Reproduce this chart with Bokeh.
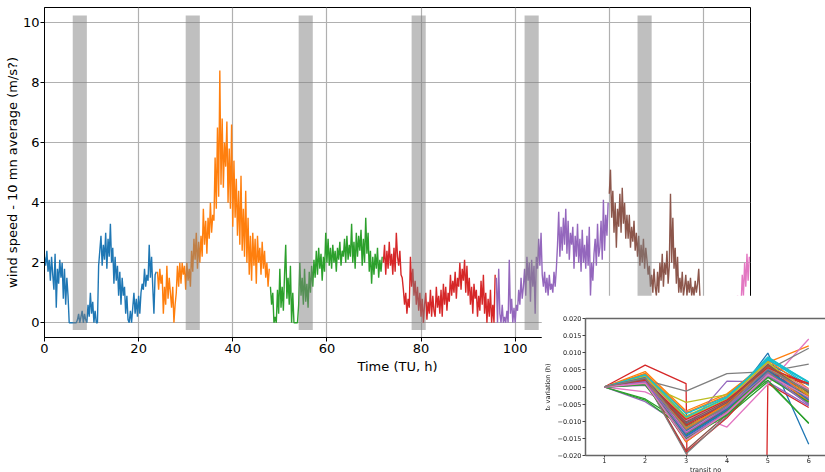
from bokeh.plotting import figure
from bokeh.models import Range1d, FixedTicker, CustomJSTickFormatter, LinearAxis
from bokeh.embed import file_html
from bokeh.resources import INLINE

# ---------------- main chart data (10 mn averaged wind speed, sampled every 0.25 h) ----------------
STEP = 0.25
day_start = [0, 24, 48, 72, 96, 120, 144]

day1 = [2.2, 1.9, 2.4, 1.7, 2.1, 1.4, 2.2, 1.6, 1.1, 2.3, 0.5, 1.8, 1.3, 2.1, 1.5, 2.0,
        0.8, 1.8, 0.6, 1.5, 0.9, 0.0, 0.0, 0.0, 0.0, 0.0, 0.0, 0.0, 0.1, 0.3, 0.0, 0.2,
        0.4, 0.0, 0.3, 0.1, 0.0, 0.6, 0.2, 1.0, 0.3, 0.7, 0.0, 0.4, 0.0, 0.0, 1.9, 2.4,
        2.9, 1.9, 2.6, 2.1, 3.0, 1.8, 2.8, 2.2, 3.3, 2.0, 2.5, 1.3, 2.2, 1.4, 1.9, 0.9,
        1.7, 0.6, 1.5, 0.9, 1.2, 0.3, 0.9, 0.1, 0.0, 0.4, 0.0, 0.5, 1.0, 0.3, 0.8, 0.2,
        0.9, 0.3, 1.0, 1.3, 1.1, 1.8, 1.2, 1.6, 1.4, 2.6, 1.5, 2.2, 1.2, 0.3, 1.6, 1.7]
day2 = [1.7, 1.1, 1.8, 1.3, 1.6, 0.3, 1.2, 0.6, 1.9, 0.8, 1.5, 1.0, 0.5, 1.2, 0.0, 0.6,
        1.0, 1.9, 1.2, 2.0, 1.3, 2.0, 1.6, 1.9, 1.1, 2.0, 1.4, 1.8, 1.2, 2.4, 1.7, 2.8,
        2.1, 3.0, 1.8, 2.7, 2.0, 2.9, 2.2, 3.8, 2.6, 3.4, 2.3, 3.5, 2.8, 4.0, 3.0, 3.6,
        3.4, 5.5, 3.8, 6.5, 4.2, 8.4, 4.6, 6.8, 4.5, 6.0, 5.2, 6.7, 4.0, 5.8, 3.8, 6.6,
        3.2, 5.4, 3.5, 4.8, 2.9, 4.4, 2.6, 4.9, 2.4, 3.8, 2.2, 4.4, 2.0, 3.5, 1.6, 2.9,
        1.4, 3.0, 1.9, 2.8, 1.3, 2.9, 2.0, 2.5, 1.6, 2.7, 1.8, 2.4, 1.5, 2.0, 1.2, 1.8]
day3 = [1.2, 0.6, 1.0, 0.0, 0.2, 0.0, 1.1, 0.3, 1.8, 0.5, 1.2, 0.4, 1.6, 2.6, 0.8, 1.5,
        0.6, 1.9, 0.0, 1.0, 0.0, 0.0, 0.0, 0.0, 0.6, 2.0, 0.9, 1.5, 0.6, 1.8, 0.7, 1.3,
        0.5, 1.7, 1.0, 1.9, 1.2, 2.1, 1.5, 2.4, 1.6, 2.5, 1.8, 2.3, 1.4, 2.2, 1.7, 3.0,
        2.0, 2.8, 1.9, 2.5, 1.8, 2.6, 2.0, 2.4, 1.7, 2.5, 2.1, 2.7, 1.9, 2.4, 2.2, 2.8,
        2.0, 2.9, 2.1, 2.6, 2.2, 3.3, 2.0, 2.7, 1.8, 3.0, 2.2, 2.9, 2.4, 3.1, 1.9, 2.8,
        2.0, 3.5, 2.3, 3.0, 1.7, 2.4, 1.3, 2.2, 1.6, 2.3, 1.8, 2.5, 1.5, 2.1, 1.7, 2.2]
day4 = [2.0, 2.6, 1.6, 2.4, 1.8, 2.7, 1.9, 2.3, 1.6, 2.5, 1.7, 3.0, 2.2, 1.9, 2.4, 1.6,
        1.5, 1.1, 0.6, 1.0, 0.3, 0.8, 0.5, 2.2, 1.2, 1.8, 0.9, 1.4, 0.6, 1.2, 0.4, 1.0,
        0.2, 0.8, 0.0, 0.6, 1.0, 0.1, 0.7, 0.3, 1.1, 0.2, 0.9, 0.4, 0.2, 1.2, 0.5, 0.9,
        0.3, 1.1, 0.2, 1.3, 0.6, 1.2, 0.4, 1.0, 0.7, 1.6, 0.9, 1.4, 1.0, 1.7, 0.8, 1.5,
        1.2, 2.0, 1.1, 1.8, 1.4, 2.1, 1.0, 1.9, 0.9, 1.5, 0.6, 1.2, 0.3, 1.3, 0.8, 1.1,
        0.2, 0.9, 0.4, 1.4, 0.6, 1.6, 0.3, 1.0, 0.0, 0.8, 0.2, 1.1, 0.0, 0.6, 0.0, 1.6]
day5 = [1.5, 0.0, 1.8, 0.3, 0.0, 0.6, 0.0, 0.2, 0.0, 0.4, 0.0, 2.1, 0.3, 0.8, 0.0, 0.5,
        0.0, 0.6, 0.4, 1.1, 0.6, 1.5, 0.8, 1.2, 1.8, 0.9, 2.2, 1.4, 2.0, 0.7, 2.1, 1.2,
        1.9, 0.3, 2.2, 1.8, 2.8, 1.9, 3.0, 1.6, 1.2, 1.7, 1.0, 1.5, 0.9, 1.6, 1.1, 1.3,
        1.0, 1.7, 1.2, 1.8, 2.6, 3.7, 2.2, 3.2, 2.4, 3.5, 2.6, 3.8, 2.3, 3.4, 2.1, 3.0,
        2.6, 3.2, 1.8, 2.9, 2.2, 3.3, 2.0, 2.8, 1.7, 3.1, 2.0, 2.6, 1.8, 2.9, 1.9, 3.2,
        0.9, 2.0, 1.4, 2.3, 2.8, 1.9, 3.3, 2.2, 2.5, 3.4, 2.1, 4.1, 2.4, 3.6, 2.9, 4.0]
day6 = [4.3, 5.1, 3.5, 4.4, 3.0, 4.0, 2.5, 3.8, 3.2, 4.3, 3.0, 4.5, 3.3, 4.0, 2.8, 3.6,
        2.8, 3.6, 2.5, 3.2, 2.7, 3.4, 2.4, 3.0, 2.2, 2.9, 1.9, 2.6, 2.0, 2.8, 1.8, 2.5,
        2.1, 1.6, 1.9, 1.2, 1.6, 1.0, 1.8, 1.2, 0.9, 1.7, 1.0, 2.0, 1.4, 2.3, 1.2, 2.0,
        1.6, 2.4, 1.3, 1.9, 4.3, 2.0, 3.5, 1.8, 2.5, 1.3, 2.2, 1.0, 1.5, 1.0, 1.7, 0.9,
        1.2, 1.6, 0.9, 1.4, 1.0, 1.5, 0.9, 1.2, 0.9, 1.4, 1.0, 1.3, 1.8, 0.9, 0.5, 0.3,
        0.6, 0.2, 0.7, 0.4, 0.3, 0.8, 0.1, 0.5, 0.6, 0.2, 0.4, 0.8, 0.3, 0.7, 0.2, 0.5]
day7 = [0.2, 0.6, 0.3, 0.8, 0.4, 0.7, 0.1, 0.5, 0.6, 0.3, 0.8, 0.4, 0.5, 0.9, 0.3, 0.7,
        0.6, 1.6, 0.9, 2.0, 1.2, 2.3, 1.4, 2.2]
days = [day1, day2, day3, day4, day5, day6, day7]

# grey transit windows (h)
bar_start = [6, 30, 54, 78, 102, 126]
bar_end = [9, 33, 57, 81, 105, 129]
bar_low = -0.24
bar_high = 10.23

x_ticks = [0, 20, 40, 60, 80, 100, 120, 140]
y_ticks = [0, 2, 4, 6, 8, 10]

# ---------------- inset data: t0 variation (h) per transit number ----------------
transit_no = [1, 2, 3, 4, 5, 6]
t2 = [0.0010, 0.0045, -0.0035, 0.0064, -0.0043, 0.0020, -0.0014, 0.0020, 0.0010, 0.0035,
      0.0025, 0.0030, -0.0038, 0.0020, 0.0005, 0.0015, 0.0020, 0.0020, 0.0035, 0.0030,
      0.0015, 0.0040, 0.0025, 0.0012, 0.0020, 0.0028, 0.0032, 0.0018, 0.0026, 0.0033,
      0.0022, 0.0038, 0.0008, 0.0017, 0.0012, 0.0024, 0.0029, 0.0014, 0.0031, 0.0036,
      0.0027, 0.0021, 0.0007, 0.0019, 0.0016, 0.0023, 0.0011, 0.0026]
t3 = [-0.0120, -0.0070, -0.0110, 0.0010, -0.0120, -0.0185, -0.0070, -0.0012, -0.0045, -0.0090,
      -0.0105, -0.0140, -0.0125, -0.0190, -0.0130, -0.0160, -0.0120, -0.0195, -0.0085, -0.0095,
      -0.0145, -0.0075, -0.0115, -0.0135, -0.0108, -0.0125, -0.0098, -0.0150, -0.0118, -0.0088,
      -0.0128, -0.0160, -0.0138, -0.0112, -0.0148, -0.0102, -0.0132, -0.0118, -0.0092, -0.0078,
      -0.0142, -0.0122, -0.0152, -0.0095, -0.0135, -0.0108, -0.0155, -0.0125]
t4 = [-0.0060, -0.0020, -0.0085, -1.0000, 0.0017, -0.0080, -0.0117, 0.0039, -0.0022, -0.0040,
      -0.0050, -0.0060, -0.0070, -0.0090, -0.0065, -0.0075, -0.0050, -0.0085, -0.0030, -0.0035,
      -0.0070, -0.0025, -0.0060, -0.0065, -0.0045, -0.0055, -0.0040, -0.0078, -0.0052, -0.0032,
      -0.0062, -0.0072, -0.0068, -0.0050, -0.0074, -0.0042, -0.0058, -0.0060, -0.0036, -0.0028,
      -0.0066, -0.0048, -0.0082, -0.0038, -0.0060, -0.0046, -0.0076, -0.0054]
t5 = [0.0099, 0.0072, 0.0015, 0.0010, 0.0015, 0.0030, 0.0008, 0.0045, 0.0060, 0.0085,
      0.0070, 0.0065, 0.0020, 0.0040, 0.0040, 0.0050, 0.0055, 0.0050, 0.0075, 0.0088,
      0.0045, 0.0078, 0.0060, 0.0042, 0.0062, 0.0058, 0.0068, 0.0035, 0.0064, 0.0082,
      0.0052, 0.0045, 0.0038, 0.0048, 0.0032, 0.0066, 0.0054, 0.0044, 0.0072, 0.0079,
      0.0049, 0.0060, 0.0028, 0.0056, 0.0040, 0.0062, 0.0036, 0.0052]
t6 = [-0.0167, 0.0120, -0.0105, -0.0060, -0.0055, -0.0040, 0.0140, 0.0067, -0.0030, 0.0015,
      0.0005, -0.0020, -0.0107, -0.0010, -0.0040, -0.0030, -0.0010, 0.0113, -0.0045, 0.0012,
      -0.0025, -0.0005, -0.0015, 0.0008, -0.0035, -0.0020, -0.0010, -0.0048, -0.0008, 0.0005,
      -0.0012, -0.0042, -0.0028, 0.0011, -0.0050, -0.0018, -0.0006, -0.0032, -0.0022, 0.0014,
      -0.0038, -0.0026, -0.0044, 0.0009, -0.0052, -0.0016, -0.0030, -0.0012]
t1 = [0.0] * len(t2)
inset_y_ticks = [-0.020, -0.015, -0.010, -0.005, 0.000, 0.005, 0.010, 0.015, 0.020]

TAB10 = ["#1f77b4", "#ff7f0e", "#2ca02c", "#d62728", "#9467bd",
         "#8c564b", "#e377c2", "#7f7f7f", "#bcbd22", "#17becf"]
FONT = "DejaVu Sans"

# ---------------- main figure ----------------
p = figure(width=825, height=472, x_range=Range1d(0, 150), y_range=Range1d(-0.49, 10.5),
           output_backend="svg", toolbar_location=None,
           min_border_left=44, min_border_right=75, min_border_top=7, min_border_bottom=135)
p.background_fill_color = "white"
p.border_fill_color = "white"
p.outline_line_color = "black"
p.outline_line_width = 1

for k, vals in enumerate(days):
    xs = [day_start[k] + STEP * i for i in range(len(vals))]
    p.line(xs, vals, line_color=TAB10[k], line_width=1.4)

p.quad(left=bar_start, right=bar_end, bottom=bar_low, top=bar_high,
       fill_color="#808080", fill_alpha=0.5, line_color=None)

p.xaxis.ticker = FixedTicker(ticks=x_ticks)
p.yaxis.ticker = FixedTicker(ticks=y_ticks)
for ax in (p.xaxis[0], p.yaxis[0]):
    ax.axis_line_color = "black"
    ax.major_tick_line_color = "black"
    ax.major_tick_out = 4
    ax.major_tick_in = 0
    ax.minor_tick_line_color = None
    ax.major_label_text_font = FONT
    ax.major_label_text_font_size = "13px"
    ax.major_label_text_color = "black"
    ax.major_label_standoff = 2
    ax.axis_label_text_font = FONT
    ax.axis_label_text_font_size = "13px"
    ax.axis_label_text_font_style = "normal"
    ax.axis_label_text_color = "black"
    ax.axis_label_standoff = 3
p.yaxis[0].axis_label_standoff = 0
p.yaxis[0].major_label_standoff = 1
p.xaxis.axis_label = "Time (TU, h)"
p.yaxis.axis_label = "wind speed - 10 mn average (m/s?)"
p.grid.grid_line_color = "#b0b0b0"
p.grid.grid_line_width = 1.2

# ---------------- inset figure (white panel laid over the lower right corner) ----------------
q = figure(width=284, height=186,
           x_range=Range1d(0.541, 6.41), y_range=Range1d(-0.02, 0.02),
           output_backend="svg", toolbar_location=None,
           min_border_left=41, min_border_right=0, min_border_top=23, min_border_bottom=26)
q.background_fill_color = "white"
q.border_fill_color = "white"
q.outline_line_color = None
q.grid.visible = False
q_bottom = q.below[0]
q_left = q.left[0]

for i in range(len(t2)):
    ys = [t1[i], t2[i], t3[i], t4[i], t5[i], t6[i]]
    q.line(transit_no, ys, line_color=TAB10[i % 10], line_width=1.3)

q_bottom.ticker = FixedTicker(ticks=transit_no)
q_left.ticker = FixedTicker(ticks=inset_y_ticks)
q_left.formatter = CustomJSTickFormatter(
    code="return (tick < -1e-9 ? '\\u2212' : '') + Math.abs(tick).toFixed(3);")
for ax in (q_bottom, q_left):
    ax.axis_line_color = "#666666"
    ax.axis_line_width = 1.5
    ax.major_tick_line_color = "#444444"
    ax.major_tick_out = 3
    ax.major_tick_in = 0
    ax.minor_tick_line_color = None
    ax.major_label_text_font = FONT
    ax.major_label_text_font_size = "6.5px"
    ax.major_label_text_color = "#222222"
    ax.major_label_standoff = 1
    ax.axis_label_text_font = FONT
    ax.axis_label_text_font_size = "6.5px"
    ax.axis_label_text_font_style = "normal"
    ax.axis_label_text_color = "#222222"
    ax.axis_label_standoff = 2
q_bottom.major_tick_out = 2
q_bottom.major_label_standoff = 0
q_bottom.axis_label_standoff = 0
q_bottom.axis_label = "transit no"
q_left.axis_label = "t\u2080 variation (h)"

top_spine = LinearAxis(ticker=FixedTicker(ticks=[]), major_tick_line_color=None,
                       minor_tick_line_color=None, axis_line_color="#666666",
                       axis_line_width=1.5)
q.add_layout(top_spine, "above")
# fixed positioning: the part below the window edge is simply cut off, no scrolling
q.styles = {"position": "fixed", "left": "541px", "top": "295px", "z-index": "10"}

open("out.html", "w").write(file_html([p, q], INLINE))
